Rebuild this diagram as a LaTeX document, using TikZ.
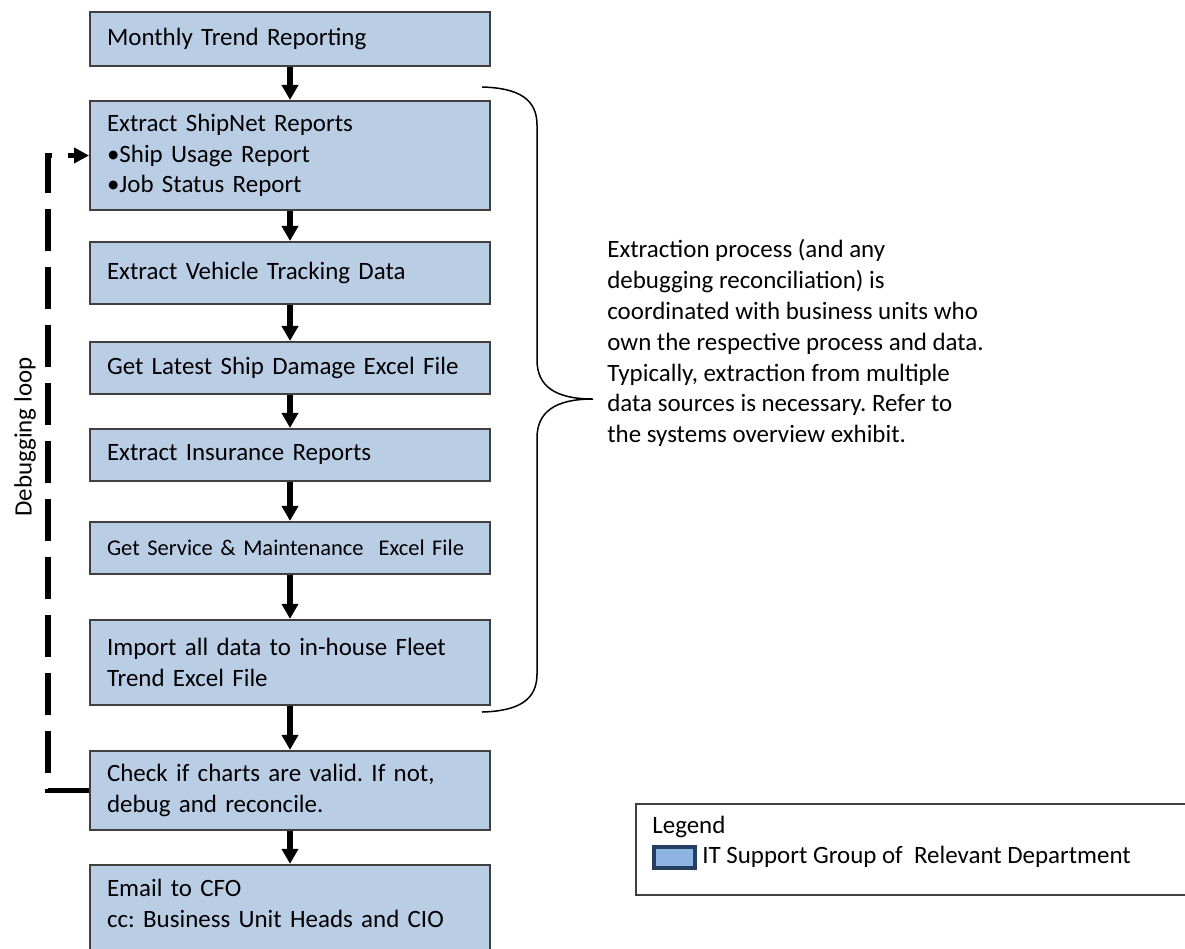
\documentclass[tikz,border=0pt]{standalone}
\usepackage{fontspec}
\setmainfont{Carlito}
\frenchspacing
\definecolor{stepfill}{HTML}{B9CDE5}
\definecolor{stepline}{HTML}{404040}
\definecolor{keyfill}{HTML}{8DB4E2}
\definecolor{keyline}{HTML}{243F60}
\usetikzlibrary{arrows.meta,positioning}

\begin{document}
\begin{tikzpicture}[x=0.02cm,y=-0.02cm,
  stepbox/.style={draw=stepline,line width=0.04cm,fill=stepfill,align=left,
    text width=7.32cm,inner xsep=0.34cm,inner ysep=0pt,
    font=\fontsize{14.2}{17.4}\selectfont},
  txt/.style={inner sep=0pt,align=left,font=\fontsize{14.2}{17.6}\selectfont},
  arr/.style={-{Triangle[length=0.3cm,width=0.32cm]},line width=0.11cm},
  loopline/.style={-{Triangle[length=0.3cm,width=0.3cm]},line width=0.11cm,
    dash pattern=on 0.84cm off 0.32cm}]
  \useasboundingbox (0,0) rectangle (1185,948);
  \node[stepbox,minimum height=1.08cm] (month) at (290,39) {Monthly Trend Reporting};
  \node[stepbox,minimum height=2.18cm,below=0.66cm of month] (shipnet)
    {Extract ShipNet Reports\\\textbullet Ship Usage Report\\\textbullet Job Status Report};
  \node[stepbox,minimum height=1.24cm,below=0.6cm of shipnet] (vehicle)
    {Extract Vehicle Tracking Data};
  \node[stepbox,minimum height=1.04cm,below=0.72cm of vehicle] (damage)
    {Get Latest Ship Damage Excel File};
  \node[stepbox,minimum height=1.04cm,below=0.66cm of damage] (insurance)
    {Extract Insurance Reports};
  \node[stepbox,minimum height=1.04cm,below=0.78cm of insurance,
    font=\fontsize{12.8}{15.5}\selectfont] (service)
    {Get Service \& Maintenance~ Excel File};
  \node[stepbox,minimum height=1.7cm,below=0.88cm of service] (import)
    {Import all data to in-house Fleet\\Trend Excel File};
  \node[stepbox,minimum height=1.58cm,below=0.88cm of import] (check)
    {Check if charts are valid. If not,\\debug and reconcile.};
  \node[stepbox,minimum height=2.16cm,below=0.66cm of check] (email)
    {Email to CFO\\cc: Business Unit Heads and CIO\\\mbox{}};
  \draw[arr] (month) -- (shipnet);
  \draw[arr] (shipnet) -- (vehicle);
  \draw[arr] (vehicle) -- (damage);
  \draw[arr] (damage) -- (insurance);
  \draw[arr] (insurance) -- (service);
  \draw[arr] (service) -- (import);
  \draw[arr] (import) -- (check);
  \draw[arr] (check) -- (email);
  \draw[loopline] (check.west) -- ++(-41,0) |- (shipnet.west);
  \node[txt,rotate=90] (debug) at (25,437) {Debugging loop};
  \draw[line width=0.03cm] (482,87) .. controls (520,88) and (537,100) .. (537,125)
    -- (537,360) .. controls (537,386) and (555,399) .. (593,399)
    .. controls (555,399) and (537,412) .. (537,438)
    -- (537,674) .. controls (537,699) and (520,711) .. (482,712);
  \node[txt,anchor=west] (extract) at (607,343)
    {Extraction process (and any\\debugging reconciliation) is\\coordinated with business units who\\own the respective process and data.\\Typically, extraction from multiple\\data sources is necessary. Refer to\\the systems overview exhibit.};
  \node[draw=stepline,line width=0.04cm,anchor=north west,minimum width=11.6cm,
    minimum height=1.82cm,inner sep=0pt] (legend) at (635,803) {};
  \node[txt,anchor=west] (legendtitle) at (652,827) {Legend};
  \node[draw=keyline,fill=keyfill,line width=0.08cm,minimum width=0.82cm,
    minimum height=0.42cm,inner sep=0pt,anchor=west] (key) at (652,857) {};
  \node[txt,right=0.1cm of key] (keytext) {IT Support Group of~ Relevant Department};
\end{tikzpicture}
\end{document}
